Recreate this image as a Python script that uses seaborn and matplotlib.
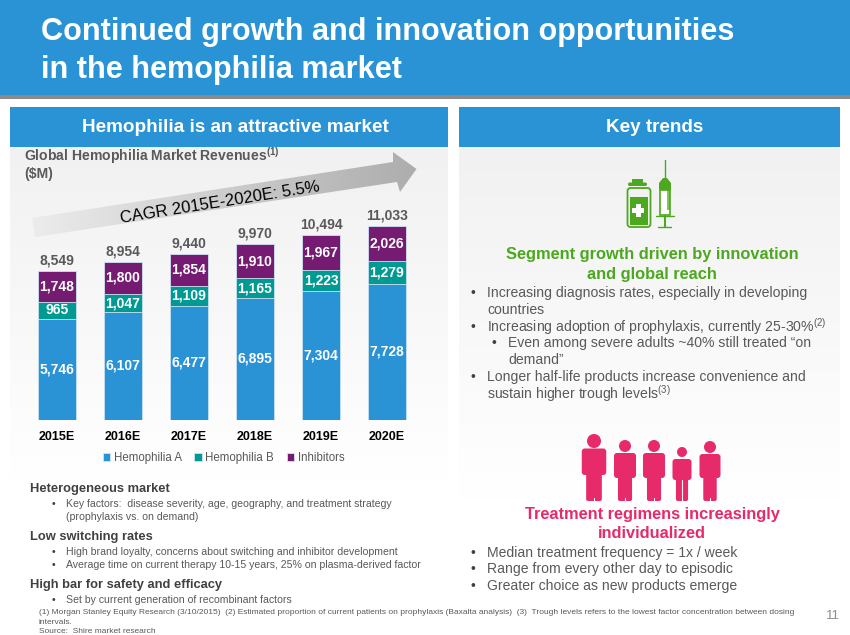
import numpy as np
import pandas as pd
import matplotlib
matplotlib.use("Agg")
import matplotlib.pyplot as plt
from matplotlib.patches import Polygon, Circle, Rectangle, FancyBboxPatch
from matplotlib.colors import LinearSegmentedColormap
import seaborn as sns

# data
years = ["2015E", "2016E", "2017E", "2018E", "2019E", "2020E"]
hemophilia_a = [5746, 6107, 6477, 6895, 7304, 7728]
hemophilia_b = [965, 1047, 1109, 1165, 1223, 1279]
inhibitors = [1748, 1800, 1854, 1910, 1967, 2026]
totals = [8549, 8954, 9440, 9970, 10494, 11033]

BLUE = "#2a93d5"
TEAL = "#009a93"
PURPLE = "#761b72"
GREEN = "#4ca81e"
PINK = "#e72a69"
GREY = "#595959"
DARK = "#404040"

sns.set_theme(style="white")
plt.rcParams["font.family"] = ["Liberation Sans", "DejaVu Sans"]
plt.rcParams["mathtext.fontset"] = "custom"
plt.rcParams["mathtext.rm"] = "Liberation Sans"
plt.rcParams["mathtext.default"] = "regular"

fig = plt.figure(figsize=(8.5, 6.35), dpi=100, facecolor="white")

# page layer in pixel coordinates
bg = fig.add_axes([0, 0, 1, 1], zorder=0)
bg.set_xlim(0, 850)
bg.set_ylim(635, 0)
bg.axis("off")


def gradient(ax, box, top, bottom, clip=None, horizontal=False, zorder=1):
    cmap = LinearSegmentedColormap.from_list("g", [top, bottom])
    arr = np.linspace(0, 1, 256).reshape(-1, 1)
    if horizontal:
        arr = arr.T
    im = ax.imshow(arr, extent=[box[0], box[1], box[3], box[2]], cmap=cmap,
                   aspect="auto", zorder=zorder, interpolation="bilinear")
    if clip is not None:
        im.set_clip_path(clip)
    return im


# banner
bg.add_patch(Rectangle((0, 0), 850, 95, fc=BLUE, ec="none", zorder=2))
bg.add_patch(Rectangle((0, 95), 850, 4, fc="#8a8a8a", ec="none", zorder=2))

# panels
gradient(bg, (10, 448, 146, 480), "#f1f1f1", "#ffffff")
gradient(bg, (459, 840, 146, 500), "#f1f1f1", "#ffffff")
bg.add_patch(Rectangle((10, 107), 438, 39.5, fc=BLUE, ec="none", zorder=2))
bg.add_patch(Rectangle((459, 107), 381, 39.5, fc=BLUE, ec="none", zorder=2))
bg.set_xlim(0, 850)
bg.set_ylim(635, 0)

# growth arrow
arrow_pts = [(32, 218), (393, 162), (393, 152), (416.5, 169), (400, 192), (397, 182), (35, 237)]
arrow = Polygon(arrow_pts, closed=True, fc="none", ec="none", transform=bg.transData)
bg.add_patch(arrow)
gradient(bg, (32, 417, 150, 240), "#ececec", "#adadad", clip=arrow, horizontal=True, zorder=2)
bg.set_xlim(0, 850)
bg.set_ylim(635, 0)
bg.text(220, 203, "CAGR 2015E-2020E: 5.5%", fontsize=12, color="black", rotation=9.1,
        ha="center", va="center", rotation_mode="anchor", zorder=3)

# title and headers
bg.text(41, 32, "Continued growth and innovation opportunities", fontsize=22.1, fontweight="bold",
        color="white", va="center", zorder=4)
bg.text(41, 70, "in the hemophilia market", fontsize=22.1, fontweight="bold",
        color="white", va="center", zorder=4)
bg.text(235, 127, "Hemophilia is an attractive market", fontsize=13.6, fontweight="bold",
        color="white", ha="center", va="center", zorder=4)
bg.text(655, 127, "Key trends", fontsize=13.6, fontweight="bold",
        color="white", ha="center", va="center", zorder=4)
bg.text(24, 156, "Global Hemophilia Market Revenues$^{(1)}$", fontsize=10.1, fontweight="bold",
        color=GREY, va="center", zorder=4)
bg.text(24, 174, "($M)", fontsize=10.1, fontweight="bold", color=GREY, va="center", zorder=4)

# left notes
for y, txt in [(489, "Heterogeneous market"), (537, "Low switching rates"), (585, "High bar for safety and efficacy")]:
    bg.text(30, y, txt, fontsize=9.3, fontweight="bold", color=DARK, va="center", zorder=4)
for y, txt in [(504, "Key factors:  disease severity, age, geography, and treatment strategy"),
               (552, "High brand loyalty, concerns about switching and inhibitor development"),
               (564.5, "Average time on current therapy 10-15 years, 25% on plasma-derived factor"),
               (600, "Set by current generation of recombinant factors")]:
    bg.text(52, y, "\u2022", fontsize=7.5, color=DARK, va="center", zorder=4)
    bg.text(66, y, txt, fontsize=7.55, color=GREY, va="center", zorder=4)
bg.text(66, 516.5, "(prophylaxis vs. on demand)", fontsize=7.55, color=GREY, va="center", zorder=4)

# footnotes
bg.text(39, 612, "(1) Morgan Stanley Equity Research (3/10/2015)  (2) Estimated proportion of current patients on "
        "prophylaxis (Baxalta analysis)  (3)  Trough levels refers to the lowest factor concentration between dosing",
        fontsize=6.0, color=GREY, va="center", zorder=4)
bg.text(39, 622, "intervals.", fontsize=6.0, color=GREY, va="center", zorder=4)
bg.text(39, 631.5, "Source:  Shire market research", fontsize=6.0, color=GREY, va="center", zorder=4)
bg.text(840, 616, "11", fontsize=9.5, color="#8c8c8c", ha="right", va="center", zorder=4)

# right column text
bg.text(652, 254, "Segment growth driven by innovation", fontsize=11.8, fontweight="bold",
        color=GREEN, ha="center", va="center", zorder=4)
bg.text(652, 274, "and global reach", fontsize=11.8, fontweight="bold",
        color=GREEN, ha="center", va="center", zorder=4)
right_lines = [
    (471, 487, 293, "\u2022", "Increasing diagnosis rates, especially in developing"),
    (None, 487, 309.5, "", "countries"),
    (471, 487, 327, "\u2022", "Increasing adoption of prophylaxis, currently 25-30%$^{(2)}$"),
    (492, 508, 343.5, "\u2022", "Even among severe adults ~40% still treated \u201con"),
    (None, 508, 360, "", "demand\u201d"),
    (471, 487, 377, "\u2022", "Longer half-life products increase convenience and"),
    (None, 487, 394, "", "sustain higher trough levels$^{(3)}$"),
    (471, 487, 553, "\u2022", "Median treatment frequency = 1x / week"),
    (471, 487, 569.5, "\u2022", "Range from every other day to episodic"),
    (471, 487, 586, "\u2022", "Greater choice as new products emerge"),
]
for bx, tx, y, b, txt in right_lines:
    if b:
        bg.text(bx, y, b, fontsize=10, color=DARK, va="center", zorder=4)
    bg.text(tx, y, txt, fontsize=10.05, color=GREY, va="center", zorder=4)
bg.text(652, 514, "Treatment regimens increasingly", fontsize=11.8, fontweight="bold",
        color=PINK, ha="center", va="center", zorder=4)
bg.text(652, 534, "individualized", fontsize=11.8, fontweight="bold",
        color=PINK, ha="center", va="center", zorder=4)

# vial and syringe icon
bg.add_patch(Rectangle((632, 178.5), 11, 4, fc=GREEN, ec="none", zorder=4))
bg.add_patch(FancyBboxPatch((628, 182.5), 19, 3.5, boxstyle="round,pad=0,rounding_size=1.7", fc=GREEN, ec="none", zorder=4))
bg.add_patch(FancyBboxPatch((627.5, 188), 23, 39, boxstyle="round,pad=0,rounding_size=3", fc="none", ec=GREEN, lw=1.3, zorder=4))
bg.add_patch(Rectangle((630, 197), 18, 27.5, fc=GREEN, ec="none", zorder=4))
bg.add_patch(Rectangle((636, 204), 5, 13, fc="white", ec="none", zorder=5))
bg.add_patch(Rectangle((632.5, 208), 12, 5, fc="white", ec="none", zorder=5))
bg.plot([665, 665], [160, 178], color=GREEN, lw=1, zorder=4)
bg.add_patch(Polygon([(659, 190), (659, 183), (663, 178), (667, 178), (671, 183), (671, 190)], fc=GREEN, ec="none", zorder=4))
bg.add_patch(Rectangle((660, 190), 10, 25, fc="white", ec=GREEN, lw=1.2, zorder=4))
bg.add_patch(Rectangle((667, 190), 3, 20, fc=GREEN, alpha=0.7, ec="none", zorder=4))
bg.plot([656, 674], [215.5, 215.5], color=GREEN, lw=1, zorder=4)
bg.plot([665, 665], [215.5, 227], color=GREEN, lw=1.5, zorder=4)
bg.plot([658.5, 671.5], [227, 227], color=GREEN, lw=1, zorder=4)


def person(cx, head_y, head_r, w, shoulder, hip, foot, split=6):
    bg.add_patch(Circle((cx, head_y), head_r, fc=PINK, ec="none", zorder=4))
    bg.add_patch(FancyBboxPatch((cx - w / 2, shoulder), w, hip - shoulder,
                                boxstyle="round,pad=0,rounding_size=3", fc=PINK, ec="none", zorder=4))
    leg = w * 0.64
    bg.add_patch(FancyBboxPatch((cx - leg / 2, hip - 3), leg, foot - hip + 3,
                                boxstyle="round,pad=0,rounding_size=2", fc=PINK, ec="none", zorder=4))
    bg.plot([cx, cx], [foot - split, foot], color="#f6f6f6", lw=0.8, zorder=5)


# people icon
person(594, 441, 7, 24.5, 448.5, 475, 501, split=3)
person(625, 446, 6, 22, 453, 478, 501, split=3)
person(654, 446, 6, 22, 453, 478, 501, split=3)
person(682, 452, 5, 19, 459, 480, 501, split=21)
person(710, 447, 6, 21, 454, 478, 501, split=3)

# chart
ax = fig.add_axes([24 / 850, 1 - 419.5 / 635, 396 / 850, 219.5 / 635], zorder=2)
ax.patch.set_alpha(0)

df = pd.DataFrame({"year": years, "Hemophilia A": hemophilia_a,
                   "Hemophilia B": hemophilia_b, "Inhibitors": inhibitors})
df["ab"] = df["Hemophilia A"] + df["Hemophilia B"]
df["abc"] = df["ab"] + df["Inhibitors"]

# stacked by drawing the cumulative heights back to front
for col, color, name in [("abc", PURPLE, "Inhibitors"), ("ab", TEAL, "Hemophilia B"), ("Hemophilia A", BLUE, "Hemophilia A")]:
    sns.barplot(data=df, x="year", y=col, color=color, saturation=1, width=0.59,
                edgecolor="#cfe3f2", linewidth=0.6, ax=ax, label=name, errorbar=None)

ax.set_ylim(0, 219.5 / 0.01757)
ax.set_xlim(-0.5, 5.5)
ax.set_xlabel("")
ax.set_ylabel("")
ax.set_yticks([])
ax.tick_params(axis="x", length=0, pad=8)
for lab in ax.get_xticklabels():
    lab.set_fontweight("bold")
    lab.set_fontsize(9)
    lab.set_color("black")
sns.despine(ax=ax, left=True, bottom=True)

for i in range(len(years)):
    a, b, c = hemophilia_a[i], hemophilia_b[i], inhibitors[i]
    for mid, v in [(a / 2, a), (a + b / 2, b), (a + b + c / 2, c)]:
        ax.text(i, mid, f"{v:,}", color="white", fontsize=10, fontweight="bold", ha="center", va="center")
    ax.annotate(f"{totals[i]:,}", (i, a + b + c), xytext=(0, 2.5), textcoords="offset points",
                color=GREY, fontsize=10, fontweight="bold", ha="center", va="bottom", annotation_clip=False)

handles, labels = ax.get_legend_handles_labels()
order = [labels.index(n) for n in ["Hemophilia A", "Hemophilia B", "Inhibitors"]]
leg = ax.legend([handles[i] for i in order], [labels[i] for i in order], loc="center", ncol=3,
                bbox_to_anchor=(199.5 / 396, -38.5 / 219.5), frameon=False, fontsize=8.3,
                handlelength=0.65, handleheight=0.65, handletextpad=0.3, columnspacing=1.1, labelcolor=GREY)

fig.savefig("out.png", dpi=100)
